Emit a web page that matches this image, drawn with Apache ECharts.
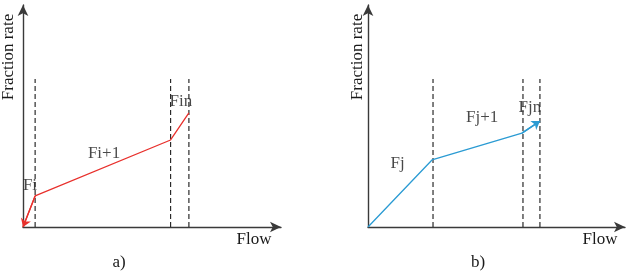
<!DOCTYPE html>
<html><head><meta charset="utf-8">
<script src="https://cdn.jsdelivr.net/npm/echarts@6/dist/echarts.min.js"></script>
<style>html,body{margin:0;padding:0;background:#fff}#c{width:631px;height:275px}</style>
</head><body><div id="c"></div>
<script>
// Panel a) piecewise fraction-rate curve (flow, rate)
const flowA = [0, 0.47, 5.72, 6.43];
const rateA = [0, 1.40, 3.92, 5.14];
const dashA = [0.47, 5.72, 6.43];
const labelsA = ['Fi', 'Fi+1', 'Fin'];
const labelXA = [0.27, 3.14, 6.12];
const labelYA = [1.89, 3.33, 5.63];
// Panel b)
const flowB = [0, 2.49, 5.99, 6.69];
const rateB = [0, 3.02, 4.23, 4.77];
const dashB = [2.53, 6.03, 6.69];
const labelsB = ['Fj', 'Fj+1', 'Fjn'];
const labelXB = [1.15, 4.44, 6.30];
const labelYB = [2.88, 4.91, 5.36];
const dashTop = 6.67;
const axisMax = 10;

const FONT = 'Liberation Serif';
const AX = '#3a3a3a';
const chart = echarts.init(document.getElementById('c'));

function axes(gi) {
  const line = {show: true, symbol: ['none', 'arrow'], symbolSize: [8, 11], lineStyle: {color: AX, width: 1.4}};
  return {
    x: {type: 'value', gridIndex: gi, min: 0, max: axisMax, axisLine: line, axisTick: {show: false}, axisLabel: {show: false}, splitLine: {show: false}},
    y: {type: 'value', gridIndex: gi, min: 0, max: axisMax, axisLine: line, axisTick: {show: false}, axisLabel: {show: false}, splitLine: {show: false}}
  };
}
const aA = axes(0), aB = axes(1);

function curveSeries(gi, xs, ys, color, arrowAtStart) {
  const pts = xs.map((x, i) => [x, ys[i]]);
  const seg = arrowAtStart ? [pts[1], pts[0]] : [pts[pts.length - 2], pts[pts.length - 1]];
  return {
    type: 'line', xAxisIndex: gi, yAxisIndex: gi, data: pts, symbol: 'none',
    lineStyle: {color: color, width: 1.3}, silent: true, z: 5,
    markLine: {
      silent: true, symbol: ['none', 'arrow'], symbolSize: 8,
      label: {show: false}, lineStyle: {color: color, width: 1.3, type: 'solid'},
      data: [[{coord: seg[0]}, {coord: seg[1]}]]
    }
  };
}
function dashSeries(gi, xs) {
  return xs.map(x => ({
    type: 'line', xAxisIndex: gi, yAxisIndex: gi, data: [[x, 0], [x, dashTop]], symbol: 'none', silent: true,
    lineStyle: {color: '#2a2a2a', width: 1.2, type: [5, 3]}
  }));
}
function labelSeries(gi, xs, ys, names) {
  return {
    type: 'scatter', xAxisIndex: gi, yAxisIndex: gi, symbolSize: 0, silent: true,
    data: xs.map((x, i) => ({value: [x, ys[i]], name: names[i]})),
    label: {show: true, position: 'inside', formatter: p => p.name, color: '#1a1a1a', fontFamily: FONT, fontSize: 17}
  };
}

function txt(x, y, s, rot) {
  return {type: 'text', x: x, y: y, rotation: rot || 0, silent: true,
    style: {text: s, fill: '#1a1a1a', font: '17px "' + FONT + '"', align: 'center', verticalAlign: 'middle'}};
}

chart.setOption({
  animation: false,
  backgroundColor: '#fff',
  grid: [
    {left: 23, top: 5, width: 258, height: 222},
    {left: 368, top: 5, width: 257, height: 222}
  ],
  xAxis: [aA.x, aB.x],
  yAxis: [aA.y, aB.y],
  graphic: [
    txt(254, 240, 'Flow'), txt(600, 240, 'Flow'),
    txt(9, 57, 'Fraction rate', Math.PI / 2), txt(358, 57, 'Fraction rate', Math.PI / 2),
    txt(119, 263, 'a)'), txt(478, 263, 'b)')
  ],
  series: [
    ...dashSeries(0, dashA),
    ...dashSeries(1, dashB),
    curveSeries(0, flowA, rateA, '#e8302c', true),
    curveSeries(1, flowB, rateB, '#2b9bd3', false),
    labelSeries(0, labelXA, labelYA, labelsA),
    labelSeries(1, labelXB, labelYB, labelsB)
  ]
});
</script>
</body></html>
